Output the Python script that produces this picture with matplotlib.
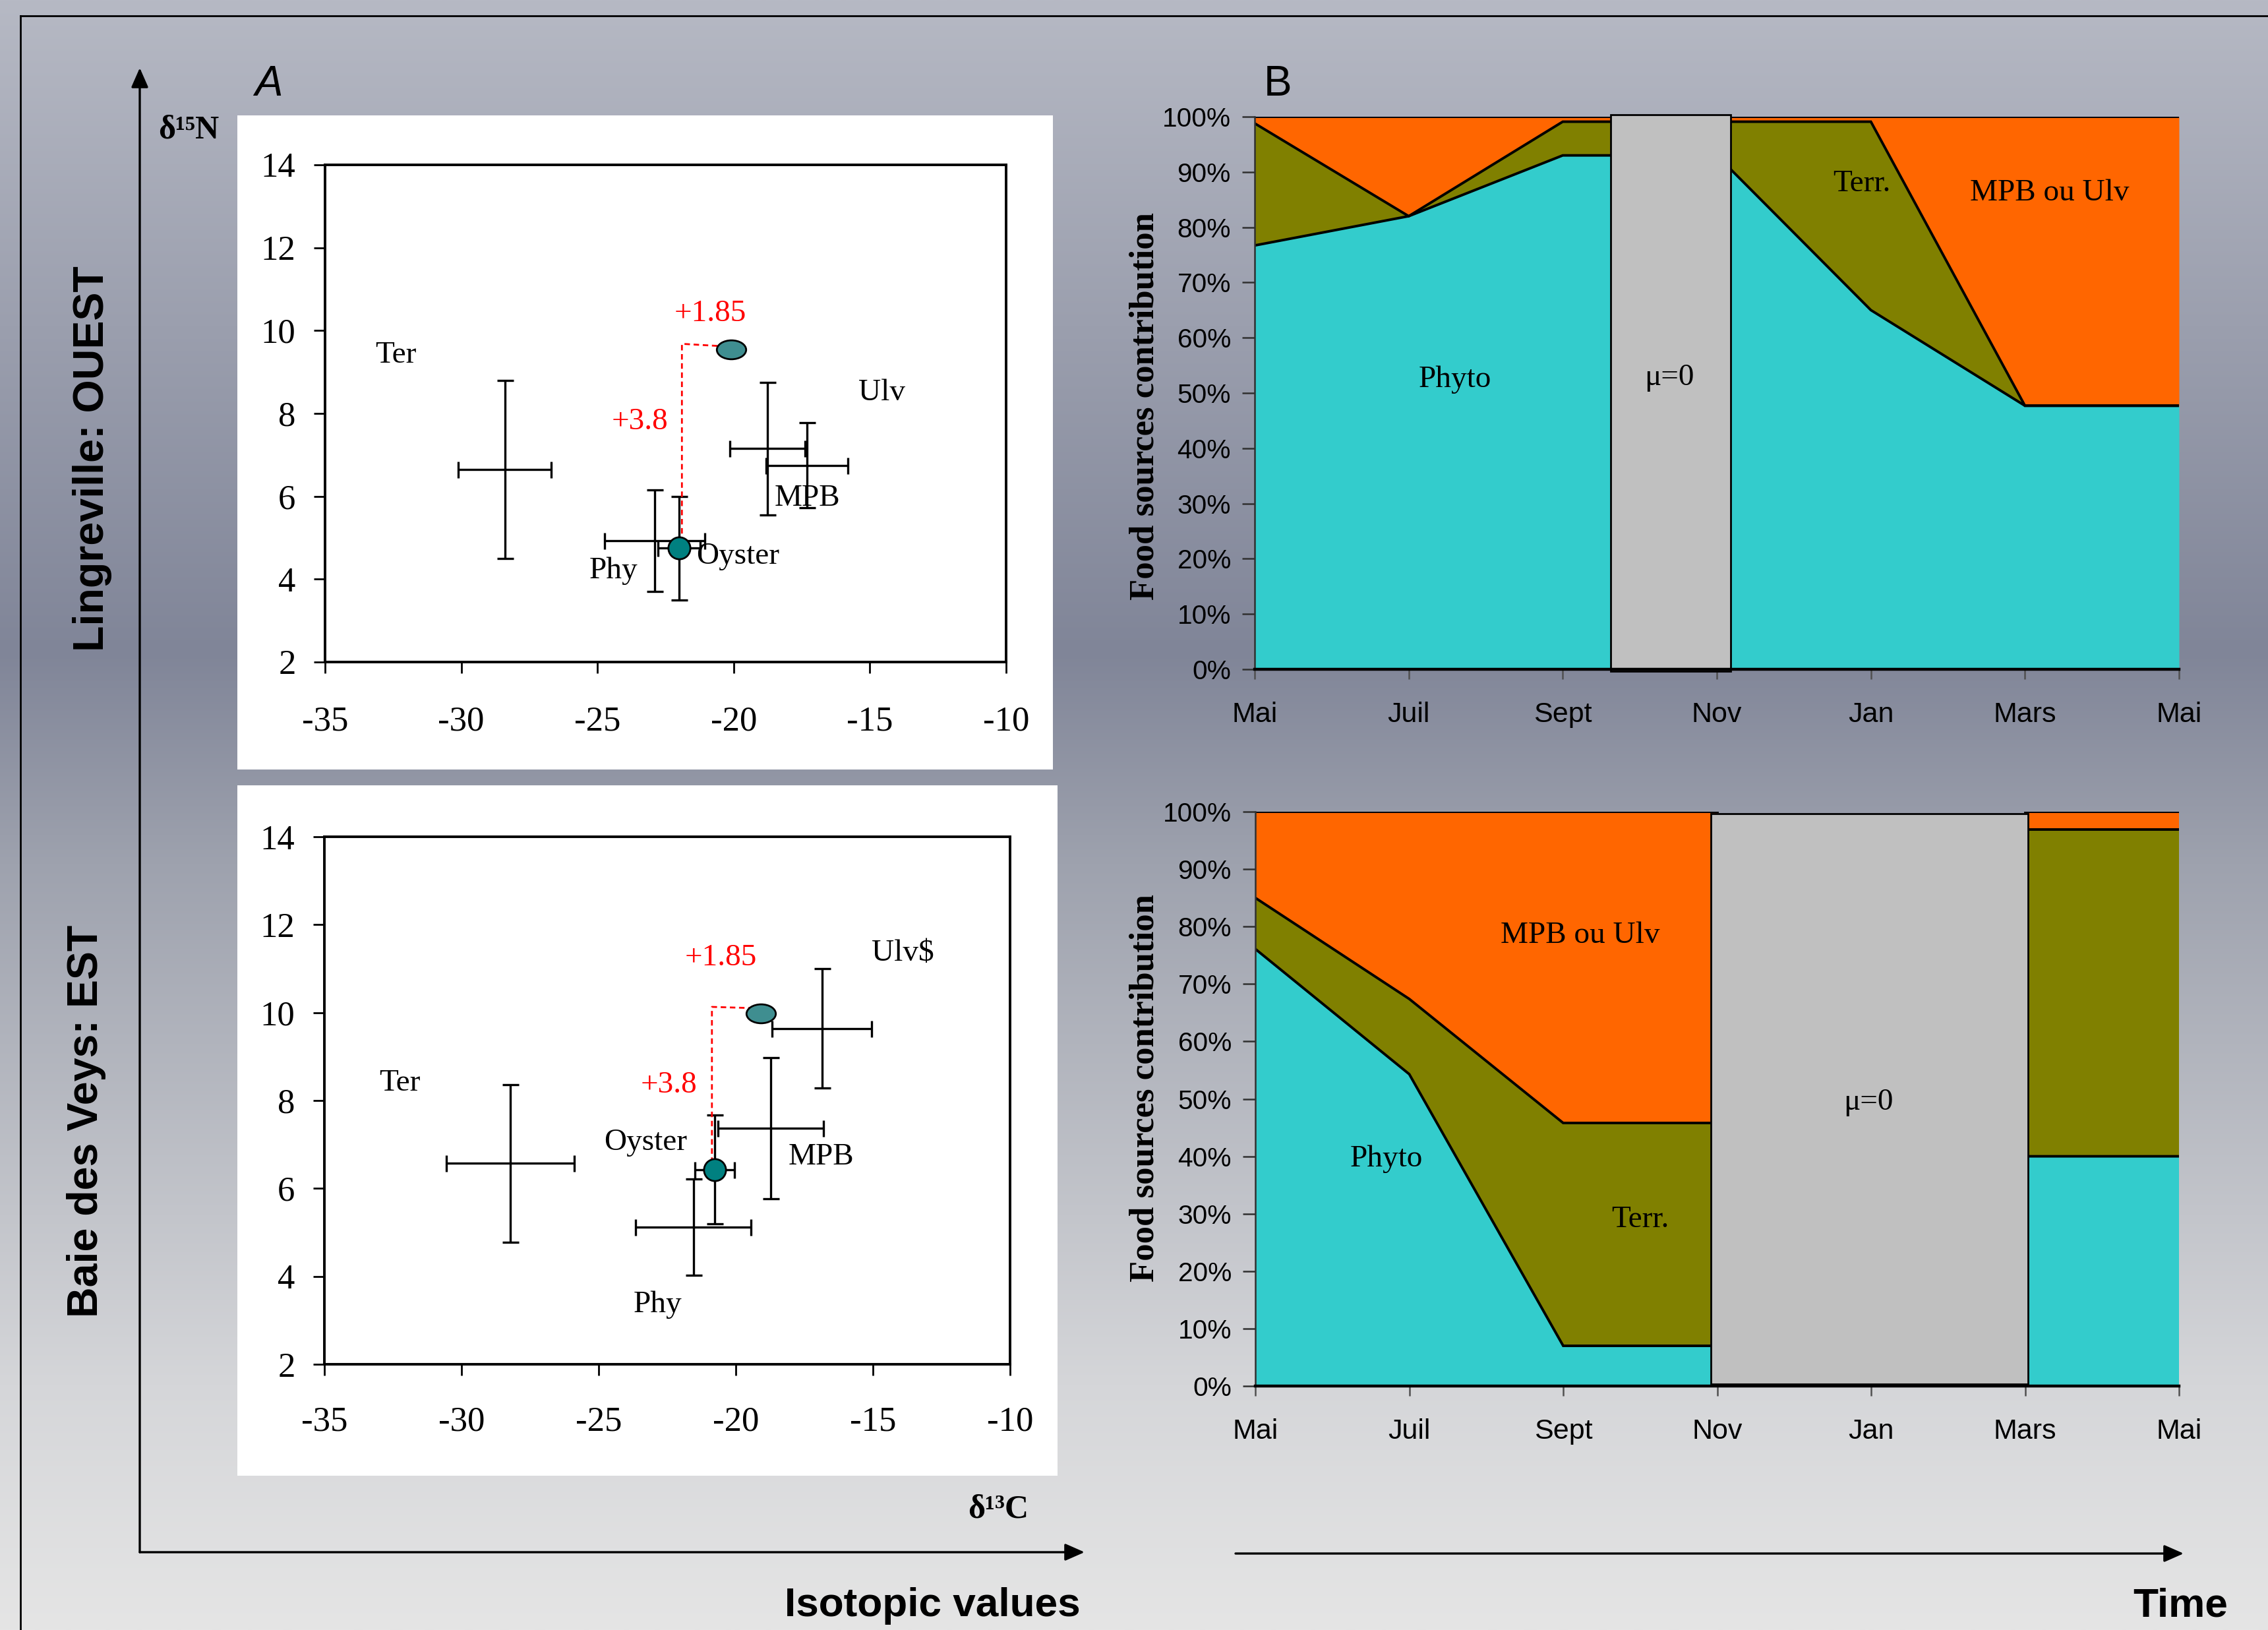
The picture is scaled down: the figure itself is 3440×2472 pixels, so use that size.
import numpy as np
import matplotlib
matplotlib.use('Agg')
import matplotlib.pyplot as plt
from matplotlib.patches import Rectangle
from matplotlib.path import Path
from matplotlib import font_manager as fm

# ------------------------------------------------------------------ data
months = ['Mai', 'Juil', 'Sept', 'Nov', 'Jan', 'Mars', 'Mai']
pct_ticks = [0, 10, 20, 30, 40, 50, 60, 70, 80, 90, 100]
iso_xticks = [-35, -30, -25, -20, -15, -10]
iso_yticks = [2, 4, 6, 8, 10, 12, 14]

# Panel A, top (Lingreville) : sources Ter, Phy, MPB, Ulv
top_src_x = [-28.4, -22.9, -18.75, -17.3]
top_src_y = [6.65, 4.93, 7.15, 6.75]
top_src_xerr = [1.7, 1.85, 1.38, 1.5]
top_src_yerr = [2.15, 1.23, 1.6, 1.02]
top_oys_x, top_oys_y = [-22.0], [4.75]
top_oys_xerr, top_oys_yerr = [0.78], [1.25]
top_shift_x, top_shift_y = [-20.1], [9.55]
top_red_x = [-21.9, -21.9, -20.6]
top_red_y = [5.1, 9.68, 9.63]

# Panel A, bottom (Baie des Veys)
bot_src_x = [-28.22, -21.55, -18.72, -16.86]
bot_src_y = [6.57, 5.12, 7.37, 9.64]
bot_src_xerr = [2.33, 2.1, 1.92, 1.81]
bot_src_yerr = [1.79, 1.09, 1.61, 1.36]
bot_oys_x, bot_oys_y = [-20.77], [6.43]
bot_oys_xerr, bot_oys_yerr = [0.73], [1.24]
bot_shift_x, bot_shift_y = [-19.09], [9.98]
bot_red_x = [-20.87, -20.87, -19.28]
bot_red_y = [6.58, 10.13, 10.1]

# Panel B, food source contributions (%)
top_phyto = [76.7, 82.0, 93.0, 93.0, 65.0, 47.7, 47.7]
top_terr = [22.1, 0.0, 6.1, 6.1, 34.1, 0.0, 0.0]
top_mpb = [1.2, 18.0, 0.9, 0.9, 0.9, 52.3, 52.3]
bot_phyto = [76.1, 54.3, 7.0, 7.0, np.nan, 40.0, 40.0]
bot_terr = [8.9, 13.1, 38.8, 38.8, np.nan, 56.9, 56.9]
bot_mpb = [15.0, 32.6, 54.2, 54.2, np.nan, 3.1, 3.1]

# ------------------------------------------------------------------ fonts
plt.rcParams['font.family'] = ['Liberation Serif', 'DejaVu Serif']
plt.rcParams['axes.unicode_minus'] = False


def font_ok(name, **kw):
    try:
        p = fm.findfont(fm.FontProperties(family=name, **kw), fallback_to_default=False)
        return p
    except Exception:
        return None


if font_ok('Liberation Sans Narrow'):
    NARROW = dict(family='Liberation Sans Narrow')
    NSCALE = 1.0
else:
    NARROW = dict(family='Liberation Sans')
    NSCALE = 0.86

SERIF = ['Liberation Serif', 'DejaVu Serif']
CYAN, OLIVE, ORANGE, GREY = '#33CCCC', '#808000', '#FF6600', '#C0C0C0'

W, H, DPI = 3440, 2472, 200
fig = plt.figure(figsize=(W / DPI, H / DPI), dpi=DPI)


def rect(l, t, r, b):
    return [l / W, 1 - b / H, (r - l) / W, (b - t) / H]


# ------------------------------------------------------------------ background
bg = fig.add_axes([0, 0, 1, 1], zorder=-5)
bg.set_xlim(0, W)
bg.set_ylim(H, 0)
bg.axis('off')
stop_pos = [0.0, 0.40, 0.53, 0.85, 1.0]
stop_col = np.array([[182, 185, 196], [128, 133, 152], [158, 162, 174],
                     [213, 214, 217], [229, 229, 229]]) / 255.0
yy = np.linspace(0, 1, 800)
grad = np.stack([np.interp(yy, stop_pos, stop_col[:, k]) for k in range(3)], axis=1)
bg.imshow(np.repeat(grad[:, None, :], 2, axis=1), extent=[0, W, H, 0],
          aspect='auto', interpolation='bilinear', zorder=0)
bg.add_patch(Rectangle((360, 175), 1237, 992, fc='white', ec='none', zorder=1))
bg.add_patch(Rectangle((360, 1191), 1244, 1047, fc='white', ec='none', zorder=1))
bg.plot([31, 31], [24, H], color='k', lw=1.0, zorder=2)
bg.plot([31, W], [24, 24], color='k', lw=1.0, zorder=2)

arrow_kw = dict(arrowstyle='-|>,head_length=0.5,head_width=0.22', lw=1.2,
                color='k', mutation_scale=18, shrinkA=0, shrinkB=0)
bg.annotate('', xy=(212, 103), xytext=(212, 2354), arrowprops=arrow_kw, zorder=3)
bg.annotate('', xy=(1645, 2354), xytext=(212, 2354), arrowprops=arrow_kw, zorder=3)
bg.annotate('', xy=(3312, 2356), xytext=(1874, 2356), arrowprops=arrow_kw, zorder=3)

hand = dict(family='Liberation Sans Narrow' if NSCALE == 1.0 else 'Liberation Sans',
            weight='bold')
bg.text(140, 696, 'Lingreville: OUEST', rotation=90, ha='center', va='center',
        fontsize=27 * NSCALE, **hand)
bg.text(131, 1700, 'Baie des Veys: EST', rotation=90, ha='center', va='center',
        fontsize=27 * NSCALE, **hand)
bg.text(1639, 2436, 'Isotopic values', ha='right', va='center',
        fontsize=26 * NSCALE, **hand)
bg.text(3379, 2436, 'Time', ha='right', va='center', fontsize=26 * NSCALE, **hand)
bg.text(407, 128, 'A', ha='center', va='center', fontsize=23, family='Liberation Sans',
        style='italic')
bg.text(1938, 128, 'B', ha='center', va='center', fontsize=23, family='Liberation Sans')
bg.text(286, 197, 'δ¹⁵N', ha='center', va='center', fontsize=18, weight='bold',
        family=SERIF)
bg.text(1514, 2290, 'δ¹³C', ha='center', va='center', fontsize=18, weight='bold',
        family=SERIF)
bg.text(1736, 616, 'Food sources contribution', rotation=90, ha='center',
        va='center', fontsize=19, weight='bold', family=SERIF)
bg.text(1736, 1650, 'Food sources contribution', rotation=90, ha='center',
        va='center', fontsize=19, weight='bold', family=SERIF)

# ------------------------------------------------------------------ panel A
circ = Path.unit_circle()
ellipse_marker = Path(circ.vertices * np.array([1.55, 1.0]), circ.codes)


def iso_panel(pos, sx, sy, sxe, sye, ox, oy, oxe, oye, shx, shy, rx, ry,
              labels, xpad):
    ax = fig.add_axes(pos)
    ax.set_facecolor('white')
    ax.set_xlim(-35, -10)
    ax.set_ylim(2, 14)
    ax.set_xticks(iso_xticks)
    ax.set_yticks(iso_yticks)
    for s in ax.spines.values():
        s.set_linewidth(1.4)
    ax.tick_params(direction='out', length=6, width=1.0, labelsize=19)
    ax.tick_params(axis='x', pad=xpad)
    ax.tick_params(axis='y', pad=10)
    ax.errorbar(sx, sy, xerr=sxe, yerr=sye, fmt='none', ecolor='black',
                elinewidth=1.2, capsize=4.5, capthick=1.2, zorder=3)
    ax.errorbar(ox, oy, xerr=oxe, yerr=oye, fmt='none', ecolor='black',
                elinewidth=1.2, capsize=4.5, capthick=1.2, zorder=3)
    ax.plot(rx, ry, color='red', ls=(0, (3, 2)), lw=1.0, zorder=4)
    ax.plot(ox, oy, ls='none', marker='o', ms=12, mfc='#008080', mec='black',
            mew=1.0, zorder=5)
    ax.plot(shx, shy, ls='none', marker=ellipse_marker, ms=16, mfc='#3F8E90',
            mec='black', mew=1.0, zorder=5)
    for (txt, x, y, col) in labels:
        ax.text(x, y, txt, ha='center', va='center', fontsize=17, color=col,
                family=SERIF, zorder=6)
    return ax


iso_panel(rect(493, 250, 1526, 1004), top_src_x, top_src_y, top_src_xerr,
          top_src_yerr, top_oys_x, top_oys_y, top_oys_xerr, top_oys_yerr,
          top_shift_x, top_shift_y, top_red_x, top_red_y,
          [('Ter', -32.4, 9.4, 'black'), ('+1.85', -20.85, 10.4, 'red'),
           ('+3.8', -23.45, 7.8, 'red'), ('Ulv', -14.55, 8.5, 'black'),
           ('MPB', -17.3, 5.95, 'black'), ('Oyster', -19.85, 4.55, 'black'),
           ('Phy', -24.4, 4.2, 'black')], 18)

iso_panel(rect(492, 1269, 1532, 2069), bot_src_x, bot_src_y, bot_src_xerr,
          bot_src_yerr, bot_oys_x, bot_oys_y, bot_oys_xerr, bot_oys_yerr,
          bot_shift_x, bot_shift_y, bot_red_x, bot_red_y,
          [('Ter', -32.25, 8.4, 'black'), ('+1.85', -20.55, 11.25, 'red'),
           ('+3.8', -22.45, 8.35, 'red'), ('Ulv$', -13.9, 11.35, 'black'),
           ('MPB', -16.9, 6.72, 'black'), ('Oyster', -23.3, 7.05, 'black'),
           ('Phy', -22.85, 3.35, 'black')], 17)

# ------------------------------------------------------------------ panel B


def area_panel(pos, phyto, terr, mpb, box, labels):
    ax = fig.add_axes(pos)
    ax.set_facecolor('none')
    x = np.arange(len(months))
    c1 = np.array(phyto)
    c2 = c1 + np.array(terr)
    c3 = c2 + np.array(mpb)
    ax.fill_between(x, 0, c1, color=CYAN, lw=0, zorder=1)
    ax.fill_between(x, c1, c2, color=OLIVE, lw=0, zorder=1)
    ax.fill_between(x, c2, c3, color=ORANGE, lw=0, zorder=1)
    for c in (c1, c2, c3):
        ax.plot(x, c, color='black', lw=1.4, zorder=2, solid_joinstyle='miter')
    ax.add_patch(Rectangle((box[0], box[1]), box[2], box[3], fc=GREY, ec='black',
                           lw=1.0, zorder=4, clip_on=False))
    ax.set_xlim(0, 6)
    ax.set_ylim(0, 100)
    ax.set_xticks(x)
    ax.set_xticklabels(months)
    ax.set_yticks(pct_ticks)
    ax.set_yticklabels(['%d%%' % v for v in pct_ticks])
    for side in ('top', 'right'):
        ax.spines[side].set_visible(False)
    ax.spines['left'].set_color('#303030')
    ax.spines['left'].set_linewidth(0.9)
    ax.spines['bottom'].set_color('black')
    ax.spines['bottom'].set_linewidth(1.6)
    ax.spines['bottom'].set_zorder(5)
    ax.tick_params(axis='y', direction='out', length=7, width=0.9, color='#303030',
                   pad=6)
    ax.tick_params(axis='x', direction='out', length=5.5, width=0.9, color='#505050',
                   pad=12)
    for lab in ax.get_xticklabels():
        lab.set_fontsize(18 * NSCALE)
        lab.set_family(NARROW['family'])
    for lab in ax.get_yticklabels():
        lab.set_fontsize(17 * NSCALE)
        lab.set_family(NARROW['family'])
    for (txt, lx, ly) in labels:
        ax.text(lx, ly, txt, ha='center', va='center', fontsize=17, family=SERIF,
                zorder=6)
    return ax


area_panel(rect(1903, 177, 3305, 1015), top_phyto, top_terr, top_mpb,
           (2.31, -0.3, 0.78, 100.6),
           [('Phyto', 1.30, 52.4), ('μ=0', 2.69, 52.8), ('Terr.', 3.94, 87.8),
            ('MPB ou Ulv', 5.16, 86.2)])
area_panel(rect(1904, 1231, 3305, 2102), bot_phyto, bot_terr, bot_mpb,
           (2.96, 0.3, 2.06, 99.3),
           [('MPB ou Ulv', 2.11, 78.5), ('Phyto', 0.85, 39.5), ('Terr.', 2.50, 29.0),
            ('μ=0', 3.98, 49.4)])

fig.savefig('out.png', dpi=DPI)
